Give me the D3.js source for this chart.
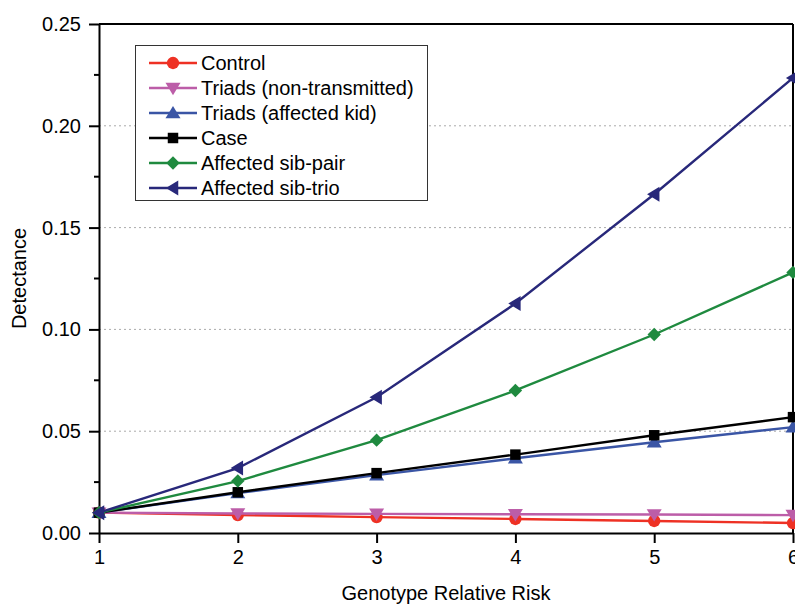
<!DOCTYPE html>
<html>
<head>
<meta charset="utf-8">
<script src="https://cdn.jsdelivr.net/npm/d3@7"></script>
<style>
body { margin: 0; background: #fff; }
text { font-family: "Liberation Sans", Arial, sans-serif; }
</style>
</head>
<body>
<svg id="chart" width="795" height="607"></svg>
<script>
let risk = [1, 2, 3, 4, 5, 6];
let control = [0.010, 0.0088, 0.0078, 0.0069, 0.0059, 0.0049];
let triadsNT = [0.010, 0.0096, 0.0094, 0.0092, 0.0091, 0.0088];
let triadsKid = [0.010, 0.0196, 0.0284, 0.0367, 0.0446, 0.052];
let caseVals = [0.010, 0.020, 0.0294, 0.0385, 0.048, 0.0569];
let sibPair = [0.010, 0.0255, 0.0456, 0.070, 0.0975, 0.128];
let sibTrio = [0.010, 0.0319, 0.0667, 0.1127, 0.1664, 0.2235];
let seriesNames = ["Control", "Triads (non-transmitted)", "Triads (affected kid)", "Case", "Affected sib-pair", "Affected sib-trio"];
let yTicks = [0, 0.05, 0.10, 0.15, 0.20, 0.25];

let colors = ["#ee3124", "#bc5da8", "#3a55a5", "#000000", "#1f8a3f", "#28287a"];
let allVals = [control, triadsNT, triadsKid, caseVals, sibPair, sibTrio];

let svg = d3.select("#chart");
let offsetx = 99, offsety = 24, width = 694, height = 509;
let fontSize = 20;

let x = d3.scaleLinear().domain([1, 6]).range([0, width]);
let y = d3.scaleLinear().domain([0, 0.25]).range([height, 0]);

let plot = svg.append("g").attr("transform", "translate(" + offsetx + ", " + offsety + ")");

// dotted grid
plot.append("g").selectAll("line").data(yTicks.filter(t => t > 0 && t < 0.25)).enter().append("line")
    .attr("x1", 0).attr("x2", width)
    .attr("y1", d => y(d)).attr("y2", d => y(d))
    .attr("stroke", "#aaa").attr("stroke-width", 1).attr("stroke-dasharray", "2,3");

// frame
plot.append("line").attr("x1", 0).attr("x2", width).attr("y1", 0).attr("y2", 0).attr("stroke", "#000").attr("stroke-width", 2);
plot.append("line").attr("x1", width).attr("x2", width).attr("y1", 0).attr("y2", height).attr("stroke", "#000").attr("stroke-width", 2);

// minor y ticks
let minor = d3.range(0.025, 0.25, 0.05);
plot.append("g").selectAll("line").data(minor).enter().append("line")
    .attr("x1", -5).attr("x2", 0)
    .attr("y1", d => y(d)).attr("y2", d => y(d))
    .attr("stroke", "#000").attr("stroke-width", 2);

let xAxis = plot.append("g")
    .attr("transform", "translate(0, " + height + ")")
    .call(d3.axisBottom(x).tickValues(risk).tickFormat(d3.format("d")).tickSize(10).tickSizeOuter(0));
let yAxis = plot.append("g")
    .call(d3.axisLeft(y).tickValues(yTicks).tickFormat(d3.format(".2f")).tickSize(10).tickSizeOuter(0));

[xAxis, yAxis].forEach(a => {
    a.select(".domain").attr("stroke-width", 2);
    a.selectAll(".tick line").attr("stroke-width", 2);
    a.selectAll("text").attr("font-size", fontSize).attr("fill", "#000")
        .attr("font-family", "Liberation Sans, Arial, sans-serif");
});
xAxis.selectAll("text").attr("y", 13).attr("dy", "0.9em");
yAxis.selectAll("text").attr("x", -18);

svg.append("text").attr("x", 446).attr("y", 600)
    .attr("text-anchor", "middle").attr("font-size", fontSize).text("Genotype Relative Risk");
svg.append("text").attr("transform", "translate(26, " + (offsety + height / 2) + ") rotate(-90)")
    .attr("text-anchor", "middle").attr("font-size", fontSize).text("Detectance");

let symbols = [d3.symbolCircle, "down", "up", d3.symbolSquare, d3.symbolDiamond, "left"];
let marker = function(g, i, cx, cy) {
    let s = symbols[i];
    let c = colors[i];
    if (s === "down" || s === "up" || s === "left") {
        let r = 7.5;
        let pts;
        if (s === "down") pts = [[-r, -r * 0.7], [r, -r * 0.7], [0, r * 0.95]];
        if (s === "up") pts = [[-r, r * 0.7], [r, r * 0.7], [0, -r * 0.95]];
        if (s === "left") pts = [[r * 0.7, -r], [r * 0.7, r], [-r * 0.95, 0]];
        g.append("path").attr("d", "M" + pts.map(p => (cx + p[0]) + "," + (cy + p[1])).join("L") + "Z").attr("fill", c);
    } else {
        let size = s === d3.symbolDiamond ? 150 : (s === d3.symbolSquare ? 110 : 120);
        let sym = s === d3.symbolDiamond ? d3.symbolSquare : s;
        let p = g.append("path").attr("d", d3.symbol().type(sym).size(s === d3.symbolDiamond ? 90 : size)())
            .attr("fill", c);
        if (s === d3.symbolDiamond) p.attr("transform", "translate(" + cx + "," + cy + ") rotate(45)");
        else p.attr("transform", "translate(" + cx + "," + cy + ")");
    }
};

let valueline = d3.line().x(d => x(d.r)).y(d => y(d.v));

allVals.forEach((vals, i) => {
    let data = risk.map((r, j) => ({ r: r, v: vals[j] }));
    let g = plot.append("g");
    g.append("path").datum(data).attr("d", valueline)
        .attr("fill", "none").attr("stroke", colors[i]).attr("stroke-width", 2.4);
    data.forEach(d => marker(g, i, x(d.r), y(d.v)));
});

// legend
let legend = svg.append("g");
legend.append("rect").attr("x", 135.5).attr("y", 45.5).attr("width", 292).attr("height", 155)
    .attr("fill", "#fff").attr("stroke", "#333").attr("stroke-width", 1);
seriesNames.forEach((name, i) => {
    let cy = 63 + i * 25;
    legend.append("line").attr("x1", 149).attr("x2", 197).attr("y1", cy).attr("y2", cy)
        .attr("stroke", colors[i]).attr("stroke-width", 2.4);
    marker(legend, i, 173, cy);
    legend.append("text").attr("x", 201).attr("y", cy + 7).attr("font-size", fontSize).text(name);
});
</script>
</body>
</html>
